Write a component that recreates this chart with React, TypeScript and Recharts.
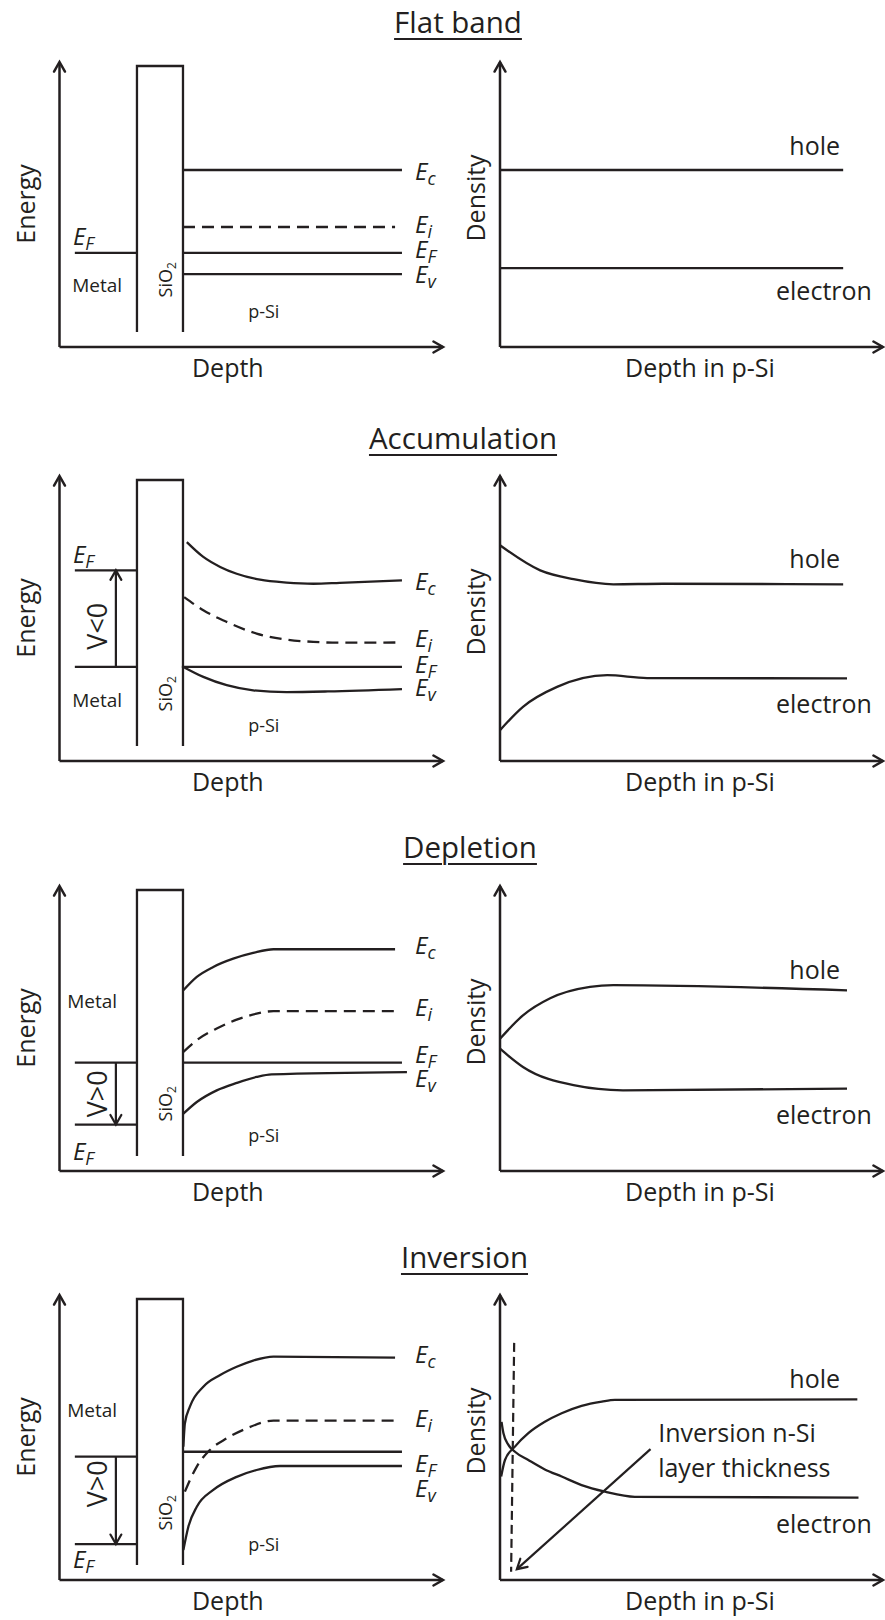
import React from 'react';
import { LineChart, Line, XAxis, YAxis, ReferenceLine, ReferenceDot } from 'recharts';

// ---------------- data (x: depth 0-100, y: energy / density 0-100) ----------------
const oxideBarrier = [[20.2, 5.3], [20.2, 98.6], [32.2, 98.6], [32.2, 5.3]];

// Flat band
const flatMetalEF = [[4.0, 33.0], [20.2, 33.0]];
const flatEc = [[32.2, 62.1], [89.3, 62.1]];
const flatEi = [[32.2, 42.1], [87.5, 42.1]];
const flatEF = [[32.2, 33.0], [89.3, 33.0]];
const flatEv = [[32.2, 25.6], [89.3, 25.6]];
const flatHole = [[0, 62.1], [89.6, 62.1]];
const flatElectron = [[0, 27.7], [89.6, 27.7]];

// Accumulation
const accMetalEF = [[4.0, 66.9], [20.2, 66.9]];
const accMetalRef = [[4.0, 33.0], [20.2, 33.0]];
const accBias = [[14.7, 33.0], [14.7, 66.9]];
const accEc = [[33.2, 76.8], [37.5, 71.6], [41.9, 68.1], [46.2, 65.7], [52.3, 63.6], [59.2, 62.6], [66.2, 62.2], [73.1, 62.5], [89.3, 63.4]];
const accEi = [[32.5, 57.5], [37.5, 52.9], [43.6, 48.8], [51.4, 44.7], [59.2, 42.6], [66.2, 41.8], [73.1, 41.5], [89.3, 41.6]];
const accEF = [[31.9, 33.0], [89.3, 33.0]];
const accEv = [[32.3, 33.0], [37.5, 29.5], [43.6, 26.6], [50.5, 24.8], [59.2, 24.2], [70.0, 24.4], [89.3, 25.2]];
const accHole = [[0, 75.7], [10.5, 66.9], [19.2, 63.8], [29.6, 62.0], [42.6, 62.2], [89.6, 62.0]];
const accElectron = [[0, 10.8], [6.0, 19.0], [14.9, 26.0], [28.0, 30.1], [38.4, 29.1], [90.6, 29.0]];

// Depletion
const depMetalRef = [[4.0, 38.0], [20.2, 38.0]];
const depMetalEF = [[4.0, 16.3], [20.2, 16.3]];
const depBias = [[14.7, 38.0], [14.7, 16.3]];
const depEc = [[32.3, 63.4], [35.8, 68.1], [40.1, 71.6], [45.3, 74.5], [50.5, 76.5], [55.8, 77.8], [87.5, 77.8]];
const depEi = [[32.3, 41.8], [35.8, 45.9], [41.0, 50.0], [46.2, 53.1], [51.4, 55.2], [55.8, 56.1], [87.5, 56.1]];
const depEF = [[32.2, 38.0], [89.3, 38.0]];
const depEv = [[32.3, 20.1], [35.8, 24.2], [41.0, 28.3], [46.2, 30.9], [51.4, 33.0], [55.3, 33.9], [90.6, 34.7]];
const depHole = [[0, 46.4], [6.0, 54.6], [13.1, 60.6], [23.5, 64.6], [29.6, 65.2], [90.6, 63.4]];
const depElectron = [[0, 42.9], [6.0, 36.5], [19.2, 30.1], [32.1, 28.3], [90.6, 28.9]];

// Inversion
const invMetalRef = [[4.0, 43.3], [20.2, 43.3]];
const invMetalEF = [[4.0, 12.6], [20.2, 12.6]];
const invBias = [[14.7, 43.3], [14.7, 12.6]];
const invEc = [[32.3, 46.8], [32.7, 55.0], [34.0, 60.8], [37.5, 67.8], [41.9, 71.9], [46.2, 74.8], [50.5, 77.0], [55.8, 78.4], [87.5, 78.0]];
const invEi = [[32.7, 31.0], [35.8, 39.8], [39.2, 45.6], [43.6, 49.7], [48.8, 53.2], [55.8, 55.9], [87.5, 55.9]];
const invEF = [[32.2, 45.0], [89.3, 45.0]];
const invEv = [[32.3, 10.5], [33.6, 18.7], [35.8, 25.7], [40.1, 31.6], [46.2, 36.2], [51.4, 38.6], [57.5, 40.0], [89.3, 40.0]];
const invHole = [[0.3, 36.3], [1.3, 42.1], [3.9, 46.8], [7.4, 51.5], [11.7, 55.5], [16.1, 58.5], [21.3, 61.1], [26.6, 62.6], [30.0, 63.2], [93.3, 63.4]];
const invElectron = [[0.4, 55.5], [0.9, 51.5], [2.2, 47.4], [3.9, 45.0], [7.4, 42.1], [11.7, 38.8], [16.1, 36.3], [21.3, 33.3], [27.4, 31.0], [35.2, 29.2], [93.6, 28.9]];
const invLayerEdge = [[3.7, 83.2], [2.9, 2.9]];
const invPointer = [[39.3, 45.9], [4.4, 3.8]];

const titles = ['Flat band', 'Accumulation', 'Depletion', 'Inversion'];

// ---------------- styling / layout ----------------
const INK = '#231f20';
const FONT = '"Open Sans", "DejaVu Sans", sans-serif';
const ROW_BASE = [346.7, 760.7, 1170.7, 1580];
const TITLE_X = [458, 463, 470, 464.5];
const TITLE_BASE = [33, 449, 858, 1268];

const P = (rows: number[][]) => rows.map(([x, y]) => ({ x, y }));

const arrowShape = (head: boolean, w: number, dash?: string) => (p: any) => {
  const { x1, y1, x2, y2 } = p;
  const ang = Math.atan2(y2 - y1, x2 - x1);
  const L = 11;
  const S = 0.52;
  const ax = x2 - L * Math.cos(ang - S);
  const ay = y2 - L * Math.sin(ang - S);
  const bx = x2 - L * Math.cos(ang + S);
  const by = y2 - L * Math.sin(ang + S);
  return (
    <g>
      <line x1={x1} y1={y1} x2={x2} y2={y2} stroke={INK} strokeWidth={w} strokeDasharray={dash} />
      {head && (
        <polyline
          points={`${ax},${ay} ${x2},${y2} ${bx},${by}`}
          fill="none"
          stroke={INK}
          strokeWidth={w}
          strokeLinecap="round"
          strokeLinejoin="miter"
        />
      )}
    </g>
  );
};

const seg = (key: string, pts: number[][], head: boolean, w = 2.2, dash?: string) => (
  <ReferenceLine
    key={key}
    segment={[{ x: pts[0][0], y: pts[0][1] }, { x: pts[1][0], y: pts[1][1] }]}
    ifOverflow="visible"
    shape={arrowShape(head, w, dash)}
  />
);

const curve = (key: string, pts: number[][], type: any = 'monotone', dash?: string) => (
  <Line
    key={key}
    data={P(pts)}
    dataKey="y"
    type={type}
    stroke={INK}
    strokeWidth={2.3}
    strokeDasharray={dash}
    dot={false}
    activeDot={false}
    isAnimationActive={false}
  />
);

const txt = (key: string, x: number, y: number, render: (cx: number, cy: number) => React.ReactNode) => (
  <ReferenceDot key={key} x={x} y={y} r={1} ifOverflow="visible" shape={(p: any) => <g>{render(p.cx, p.cy)}</g>} />
);

const eLabel = (key: string, x: number, y: number, sub: string, size = 24, subSize = 18) =>
  txt(key, x, y, (cx, cy) => (
    <text x={cx} y={cy} fontFamily={FONT} fontStyle="italic" fontSize={size} fill={INK}>
      E<tspan fontSize={subSize} dy={5}>{sub}</tspan>
    </text>
  ));

const plain = (key: string, x: number, y: number, s: string, size: number, anchor: any = 'start') =>
  txt(key, x, y, (cx, cy) => (
    <text x={cx} y={cy} fontFamily={FONT} fontSize={size} fill={INK} textAnchor={anchor}>
      {s}
    </text>
  ));

const vertical = (key: string, x: number, y: number, s: React.ReactNode, size: number, anchor: any = 'middle') =>
  txt(key, x, y, (cx, cy) => (
    <text
      x={cx}
      y={cy}
      transform={`rotate(-90 ${cx} ${cy})`}
      fontFamily={FONT}
      fontSize={size}
      fill={INK}
      textAnchor={anchor}
    >
      {s}
    </text>
  ));

type BandCfg = {
  metalA: number[][];
  metalB?: number[][];
  bias?: number[][];
  biasText?: string;
  biasTextY?: number;
  ec: number[][];
  ei: number[][];
  ef: number[][];
  ev: number[][];
  efLabel: number[];
  metalText: number[];
  labelY: number[];
};

type DensCfg = {
  hole: number[][];
  electron: number[][];
  holeY: number;
  electronY: number;
  inversion?: boolean;
};

const bandCfgs: BandCfg[] = [
  {
    metalA: flatMetalEF, ec: flatEc, ei: flatEi, ef: flatEF, ev: flatEv,
    efLabel: [3.5, 35.8], metalText: [3.3, 19.3], labelY: [58.6, 40.0, 31.2, 22.5],
  },
  {
    metalA: accMetalEF, metalB: accMetalRef, bias: accBias, biasText: 'V<0', biasTextY: 47.3,
    ec: accEc, ei: accEi, ef: accEF, ev: accEv,
    efLabel: [3.5, 69.6], metalText: [3.3, 18.8], labelY: [59.9, 39.9, 30.8, 22.7],
  },
  {
    metalA: depMetalRef, metalB: depMetalEF, bias: depBias, biasText: 'V>0', biasTextY: 27.1,
    ec: depEc, ei: depEi, ef: depEF, ev: depEv,
    efLabel: [3.5, 3.8], metalText: [2.0, 57.1], labelY: [76.3, 54.3, 37.8, 29.5],
  },
  {
    metalA: invMetalRef, metalB: invMetalEF, bias: invBias, biasText: 'V>0', biasTextY: 33.8,
    ec: invEc, ei: invEi, ef: invEF, ev: invEv,
    efLabel: [3.5, 4.2], metalText: [2.0, 57.2], labelY: [76.0, 53.7, 37.9, 29.1],
  },
];

const densCfgs: DensCfg[] = [
  { hole: flatHole, electron: flatElectron, holeY: 67.4, electronY: 16.5 },
  { hole: accHole, electron: accElectron, holeY: 67.6, electronY: 16.7 },
  { hole: depHole, electron: depElectron, holeY: 67.5, electronY: 16.6 },
  { hole: invHole, electron: invElectron, holeY: 67.3, electronY: 16.6, inversion: true },
];

function BandChart({ c, top }: { c: BandCfg; top: number }) {
  return (
    <div style={{ position: 'absolute', left: 0, top }}>
      <LineChart width={450} height={350} margin={{ top: 15, right: 7, bottom: 50, left: 59.5 }}>
        <XAxis type="number" dataKey="x" domain={[0, 100]} hide />
        <YAxis type="number" domain={[0, 100]} hide />
        {seg('ax-y', [[0, 0], [0, 100]], true, 2.5)}
        {seg('ax-x', [[0, 0], [100, 0]], true, 2.5)}
        {curve('oxide', oxideBarrier, 'linear')}
        {curve('mA', c.metalA, 'linear')}
        {c.metalB && curve('mB', c.metalB, 'linear')}
        {c.bias && seg('bias', c.bias, true, 2.2)}
        {c.biasText && vertical('biasT', 12.4, c.biasTextY as number, c.biasText, 27)}
        {curve('ec', c.ec)}
        {curve('ei', c.ei, 'monotone', '12 7')}
        {curve('ef', c.ef, 'linear')}
        {curve('ev', c.ev)}
        {eLabel('lc', 92.7, c.labelY[0], 'c')}
        {eLabel('li', 92.7, c.labelY[1], 'i')}
        {eLabel('lF', 92.7, c.labelY[2], 'F')}
        {eLabel('lv', 92.7, c.labelY[3], 'v')}
        {eLabel('lm', c.efLabel[0], c.efLabel[1], 'F')}
        {plain('metal', c.metalText[0], c.metalText[1], 'Metal', 19)}
        {vertical(
          'sio2',
          29.3,
          17.4,
          <>
            SiO<tspan fontSize={12} dy={4}>2</tspan>
          </>,
          18,
          'start'
        )}
        {plain('psi', 49.2, 10.2, 'p-Si', 18)}
        {vertical('energy', -6.4, 50.2, 'Energy', 25)}
        {plain('depth', 43.9, -10.5, 'Depth', 25, 'middle')}
      </LineChart>
    </div>
  );
}

function DensityChart({ c, top }: { c: DensCfg; top: number }) {
  return (
    <div style={{ position: 'absolute', left: 450, top }}>
      <LineChart width={435} height={350} margin={{ top: 15, right: 2, bottom: 50, left: 50 }}>
        <XAxis type="number" dataKey="x" domain={[0, 100]} hide />
        <YAxis type="number" domain={[0, 100]} hide />
        {seg('ax-y', [[0, 0], [0, 100]], true, 2.5)}
        {seg('ax-x', [[0, 0], [100, 0]], true, 2.5)}
        {curve('hole', c.hole)}
        {curve('electron', c.electron)}
        {plain('holeT', 88.8, c.holeY, 'hole', 25, 'end')}
        {plain('elecT', 97.1, c.electronY, 'electron', 25, 'end')}
        {c.inversion && seg('layer', invLayerEdge, false, 2.2, '9 5')}
        {c.inversion && seg('pointer', invPointer, true, 2.2)}
        {c.inversion && plain('inv1', 41.3, 48.5, 'Inversion n-Si', 25)}
        {c.inversion && plain('inv2', 41.3, 36.3, 'layer thickness', 25)}
        {vertical('density', -3.9, 52.3, 'Density', 25)}
        {plain('depthP', 52.2, -10.5, 'Depth in p-Si', 25, 'middle')}
      </LineChart>
    </div>
  );
}

export default function App() {
  return (
    <div
      style={{
        position: 'absolute',
        left: 0,
        top: 0,
        width: 885,
        height: 1620,
        background: '#ffffff',
        fontFamily: FONT,
        color: INK,
        overflow: 'hidden',
      }}
    >
      {titles.map((t, i) => (
        <div
          key={t}
          style={{
            position: 'absolute',
            left: TITLE_X[i] - 250,
            width: 500,
            top: TITLE_BASE[i] - 25.75,
            fontSize: 29.5,
            lineHeight: '29px',
            textAlign: 'center',
            textDecoration: 'underline',
            textDecorationThickness: '2px',
            textUnderlineOffset: '5px',
          }}
        >
          {t}
        </div>
      ))}
      {ROW_BASE.map((b, i) => (
        <React.Fragment key={i}>
          <BandChart c={bandCfgs[i]} top={b - 300} />
          <DensityChart c={densCfgs[i]} top={b - 300} />
        </React.Fragment>
      ))}
    </div>
  );
}
